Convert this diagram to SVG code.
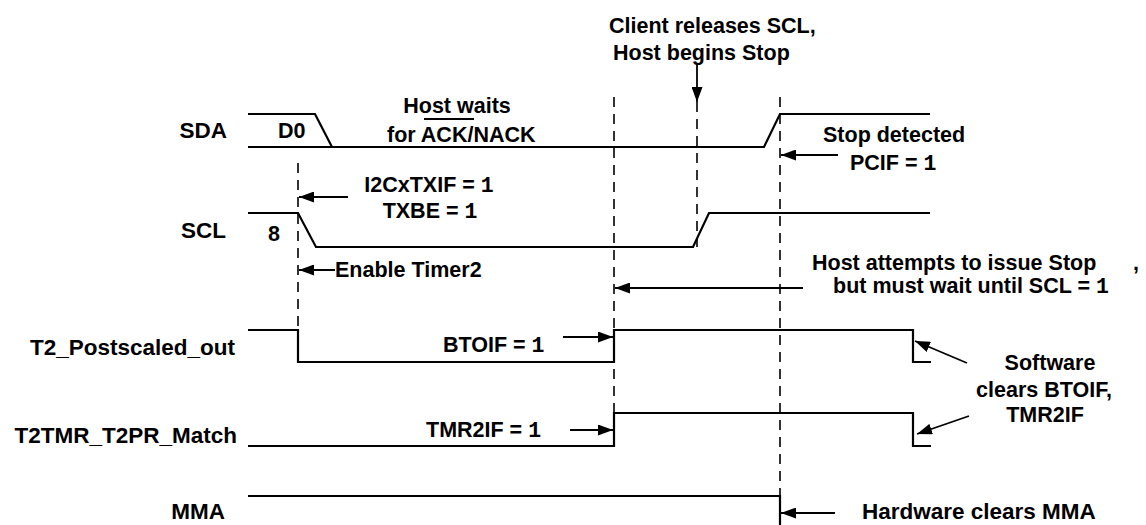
<svg xmlns="http://www.w3.org/2000/svg" width="1146" height="525" viewBox="0 0 1146 525">
<style>
text{font-family:"Liberation Sans",Arial,sans-serif;font-weight:bold;font-size:21.5px;fill:#000}
.lbl{font-size:22.5px;text-anchor:end}
.one{font-family:"Liberation Mono","DejaVu Sans Mono",monospace;font-weight:bold}
.mid{text-anchor:middle}
.wave{fill:none;stroke:#000;stroke-width:2.2}
.dash{fill:none;stroke:#000;stroke-width:1.6;stroke-dasharray:10,7}
.arr{fill:none;stroke:#000;stroke-width:1.8;marker-end:url(#ah)}
</style>
<defs>
<marker id="ah" markerUnits="userSpaceOnUse" markerWidth="15" markerHeight="11" refX="15" refY="5.5" orient="auto">
<path d="M0,0 L15,5.5 L0,11 z" fill="#000"/>
</marker>
</defs>
<rect width="1146" height="525" fill="#fff"/>

<g id="sda">
<text class="lbl" x="227" y="138">SDA</text>
<path class="wave" d="M248,114 H315 L332,147"/>
<path class="wave" d="M248,147 H764 L780,114 H930"/>
<text x="278" y="138">D0</text>
</g>

<g id="scl">
<text class="lbl" x="226" y="238">SCL</text>
<path class="wave" d="M248,213 H298 L316,247 H693 L709,213 H930"/>
<text x="268" y="241">8</text>
</g>

<g id="t2post">
<text class="lbl" x="235" y="355">T2_Postscaled_out</text>
<path class="wave" d="M248,330 H298 V362 H614 V330 H913 V362 H931"/>
</g>

<g id="t2match">
<text class="lbl" x="237" y="443">T2TMR_T2PR_Match</text>
<path class="wave" d="M248,446 H614 V413 H913 V446 H931"/>
</g>

<g id="mma">
<text class="lbl" x="225" y="519">MMA</text>
<path class="wave" d="M248,496 H780 V525"/>
</g>

<g id="connectors">
<path class="dash" d="M298,163 V330"/>
<path class="dash" d="M614,97 V446"/>
<path class="dash" d="M697,102 V247"/>
<path class="dash" d="M780,97 V525"/>
<path class="arr" d="M697,65 V102"/>
<path class="arr" d="M348,197 H299"/>
<path class="arr" d="M335,270 H299"/>
<path class="arr" d="M803,288 H615"/>
<path class="arr" d="M838,155 H781"/>
<path class="arr" d="M563,337 H613"/>
<path class="arr" d="M570,430 H613"/>
<path class="arr" d="M835,513 H781"/>
<path class="arr" d="M967,363 L915,341"/>
<path class="arr" d="M969,416 L917,434"/>
</g>

<g id="note-hostwaits">
<text class="mid" x="457" y="113">Host waits</text>
<text x="387" y="142">for ACK/NACK</text>
<line x1="424" y1="119" x2="474" y2="119" stroke="#000" stroke-width="2"/>
</g>

<g id="note-client">
<text x="609" y="33">Client releases SCL,</text>
<text x="613" y="60">Host begins Stop</text>
</g>

<g id="note-txif">
<text class="mid" x="429" y="192">I2CxTXIF = <tspan class="one">1</tspan></text>
<text class="mid" x="430" y="218">TXBE = <tspan class="one">1</tspan></text>
</g>

<g id="note-timer2">
<text x="335" y="277">Enable Timer2</text>
</g>

<g id="note-stop">
<text x="823" y="142">Stop detected</text>
<text x="850" y="170">PCIF = <tspan class="one">1</tspan></text>
</g>

<g id="note-attempt">
<text x="812" y="270">Host attempts to issue Stop</text>
<text x="1133" y="270">,</text>
<text x="833" y="293">but must wait until SCL = <tspan class="one">1</tspan></text>
</g>

<g id="note-btoif">
<text x="443" y="352">BTOIF = <tspan class="one">1</tspan></text>
</g>

<g id="note-tmr2if">
<text x="426" y="437">TMR2IF = <tspan class="one">1</tspan></text>
</g>

<g id="note-software">
<text class="mid" x="1050" y="370">Software</text>
<text class="mid" x="1044" y="397">clears BTOIF,</text>
<text class="mid" x="1045" y="422">TMR2IF</text>
</g>

<g id="note-hardware">
<text x="862" y="519" style="font-size:22.5px">Hardware clears MMA</text>
</g>
</svg>
